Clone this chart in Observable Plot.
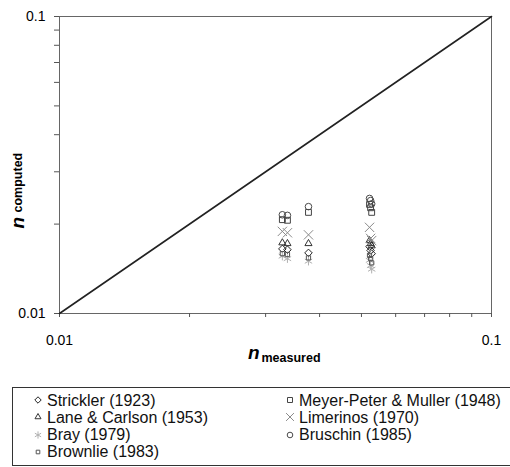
<!DOCTYPE html>
<html><head><meta charset="utf-8">
<script src="https://cdn.jsdelivr.net/npm/d3@7"></script>
<script src="https://cdn.jsdelivr.net/npm/@observablehq/plot@0.6"></script>
<style>
body{margin:0;background:#fff;font-family:"Liberation Sans",Arial,sans-serif;overflow:hidden;width:510px;height:467px;position:relative}
#legend{position:absolute;left:12px;top:387px;width:540px;height:79px;border:1px solid #333;box-sizing:border-box;}
.item{position:absolute;font-size:16px;line-height:17px;height:17px;white-space:nowrap;color:#111;display:flex;align-items:center}
.item svg{margin-right:2px;flex:none}
</style></head><body>
<div id="chart"></div>
<div id="legend"></div>
<script>
// methods (legend order, row-major in two columns)
const methods = ["Strickler (1923)", "Meyer-Peter & Muller (1948)", "Lane & Carlson (1953)", "Limerinos (1970)", "Bray (1979)", "Bruschin (1985)", "Brownlie (1983)"];
const symbols = ["diamond2", "square", "triangle2", "times", "asterisk", "circle", "square"];
const strokes = ["#222", "#444", "#333", "#8a8a8a", "#b0b0b0", "#4a4a4a", "#555"];
const sizes = [3.4, 3.3, 3.4, 4.3, 4.0, 3.3, 2.4];

// measured roughness of the six sites
const siteMeasured = [0.0328, 0.0337, 0.0377, 0.0522, 0.0525, 0.0528];
// computed roughness per method, one value per site
const strickler  = [0.0165, 0.0164, 0.0160, 0.0168, 0.0163, 0.0159];
const meyerPeter = [0.0207, 0.0206, 0.0219, 0.0233, 0.0227, 0.0219];
const laneCarlson= [0.0173, 0.0172, 0.0172, 0.0176, 0.0172, 0.0169];
const limerinos  = [0.0189, 0.0187, 0.0184, 0.0195, 0.0179, 0.0176];
const bray       = [0.0156, 0.0153, 0.0150, 0.0151, 0.0145, 0.0141];
const bruschin   = [0.0215, 0.0214, 0.0229, 0.0244, 0.0240, 0.0234];
const brownlie   = [0.0159, 0.0158, 0.0154, 0.0157, 0.0153, 0.0148];
const series = [strickler, meyerPeter, laneCarlson, limerinos, bray, bruschin, brownlie];

const axisTicks = [0.01, 0.02, 0.03, 0.04, 0.05, 0.06, 0.07, 0.08, 0.09, 0.1];
const tickLabels = ["0.01", "0.1"];
const diagonal = [0.01, 0.1];

const labelSet = new Set(tickLabels.map(Number));
const fmt = d => labelSet.has(d) ? String(d) : "";

const rows = [];
methods.forEach((m, i) => series[i].forEach((v, j) => rows.push({method: m, measured: siteMeasured[j], computed: v})));

const dotMarks = methods.map((m, i) => Plot.dot(rows.filter(d => d.method === m), {
  x: "measured", y: "computed", symbol: symbols[i], stroke: strokes[i], r: sizes[i], strokeWidth: 1, fill: "none"
}));

const chart = Plot.plot({
  width: 510, height: 375,
  marginLeft: 59, marginRight: 19, marginTop: 16, marginBottom: 62,
  style: {fontFamily: "Liberation Sans, Arial, sans-serif", fontSize: "14px", color: "#000", background: "#fff"},
  x: {type: "log", domain: [0.01, 0.1]},
  y: {type: "log", domain: [0.01, 0.1]},
  marks: [
    Plot.frame({stroke: "#666"}),
    Plot.axisX(axisTicks, {anchor: "bottom", tickSize: 4, tickPadding: 18, tickFormat: fmt, fontSize: 14, stroke: "#555", label: null}),
    Plot.axisY(axisTicks, {anchor: "left", tickSize: 5, tickPadding: 9, tickFormat: fmt, fontSize: 14, stroke: "#555", label: null}),
    Plot.line(diagonal.map(v => [v, v]), {stroke: "#222", strokeWidth: 1.6}),
    ...dotMarks,
    Plot.text(["n"], {frameAnchor: "bottom", lineAnchor: "bottom", textAnchor: "end", dx: -16, dy: 45, fontSize: 19, fontWeight: "bold", fontStyle: "italic"}),
    Plot.text(["measured"], {frameAnchor: "bottom", lineAnchor: "bottom", textAnchor: "start", dx: -14, dy: 48, fontSize: 12.5, fontWeight: "bold"}),
    Plot.text(["n"], {frameAnchor: "left", rotate: -90, lineAnchor: "bottom", textAnchor: "start", dx: -36, dy: 63.5, fontSize: 19, fontWeight: "bold", fontStyle: "italic"}),
    Plot.text(["computed"], {frameAnchor: "left", rotate: -90, lineAnchor: "bottom", textAnchor: "start", dx: -38, dy: 47.5, fontSize: 12.5, fontWeight: "bold"})
  ]
});
document.getElementById("chart").appendChild(chart);

// legend
const symType = {diamond2: d3.symbolDiamond2, square: d3.symbolSquare, triangle2: d3.symbolTriangle2, times: d3.symbolTimes, asterisk: d3.symbolAsterisk, circle: d3.symbolCircle};
const legend = document.getElementById("legend");
const colX = [18, 270];
const rowY = [3.5, 20.8, 38.1, 55.4];
methods.forEach((m, i) => {
  const col = i % 2, row = Math.floor(i / 2);
  const item = document.createElement("div");
  item.className = "item";
  item.style.left = colX[col] + "px";
  item.style.top = rowY[row] + "px";
  const r = sizes[i] * 0.85;
  const path = d3.symbol(symType[symbols[i]], Math.PI * r * r)();
  item.innerHTML = `<svg width="14" height="14" viewBox="-7 -7 14 14"><path d="${path}" fill="none" stroke="${strokes[i]}" stroke-width="1"/></svg><span>${m}</span>`;
  legend.appendChild(item);
});
</script>
</body></html>
